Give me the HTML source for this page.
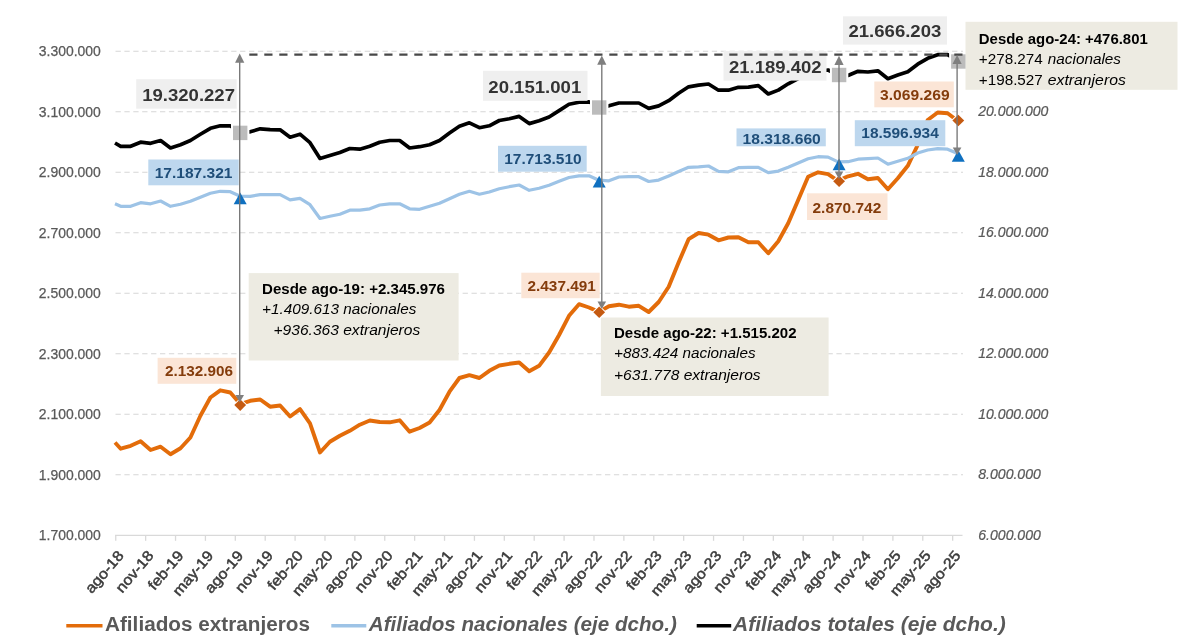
<!DOCTYPE html>
<html lang="es">
<head>
<meta charset="utf-8">
<title>Afiliados extranjeros, nacionales y totales</title>
<style>
html,body{margin:0;padding:0;background:#fff;}
body{width:1200px;height:638px;overflow:hidden;}
svg{display:block;font-family:"Liberation Sans",sans-serif;}
.ax{font-size:14px;fill:#595959;stroke:#595959;stroke-width:0.25px;}
.axr{font-size:14px;fill:#595959;font-style:italic;stroke:#595959;stroke-width:0.2px;}
.xl{font-size:14.6px;fill:#3c3c3c;stroke:#3c3c3c;stroke-width:0.5px;}
.lg{font-size:20px;font-weight:bold;fill:#595959;}
.lgi{font-size:20px;font-weight:bold;font-style:italic;fill:#595959;}
.b{font-weight:bold;}
.i{font-style:italic;}
</style>
</head>
<body>
<svg width="1200" height="638" viewBox="0 0 1200 638">
<rect x="0" y="0" width="1200" height="638" fill="#ffffff"/>

<g stroke="#d6d6d6" stroke-width="1.1" stroke-dasharray="5.3 3.6" fill="none">
<line x1="115.5" y1="51.20" x2="963" y2="51.20"/>
<line x1="115.5" y1="111.71" x2="963" y2="111.71"/>
<line x1="115.5" y1="172.22" x2="963" y2="172.22"/>
<line x1="115.5" y1="232.73" x2="963" y2="232.73"/>
<line x1="115.5" y1="293.24" x2="963" y2="293.24"/>
<line x1="115.5" y1="353.75" x2="963" y2="353.75"/>
<line x1="115.5" y1="414.26" x2="963" y2="414.26"/>
<line x1="115.5" y1="474.77" x2="963" y2="474.77"/>
</g>
<g stroke="#d9d9d9" stroke-width="1.3" fill="none">
<line x1="115" y1="535.3" x2="962.5" y2="535.3"/>
<line x1="115.75" y1="535.3" x2="115.75" y2="540.8"/>
<line x1="145.64" y1="535.3" x2="145.64" y2="540.8"/>
<line x1="175.53" y1="535.3" x2="175.53" y2="540.8"/>
<line x1="205.42" y1="535.3" x2="205.42" y2="540.8"/>
<line x1="235.31" y1="535.3" x2="235.31" y2="540.8"/>
<line x1="265.20" y1="535.3" x2="265.20" y2="540.8"/>
<line x1="295.09" y1="535.3" x2="295.09" y2="540.8"/>
<line x1="324.98" y1="535.3" x2="324.98" y2="540.8"/>
<line x1="354.87" y1="535.3" x2="354.87" y2="540.8"/>
<line x1="384.76" y1="535.3" x2="384.76" y2="540.8"/>
<line x1="414.65" y1="535.3" x2="414.65" y2="540.8"/>
<line x1="444.54" y1="535.3" x2="444.54" y2="540.8"/>
<line x1="474.43" y1="535.3" x2="474.43" y2="540.8"/>
<line x1="504.32" y1="535.3" x2="504.32" y2="540.8"/>
<line x1="534.21" y1="535.3" x2="534.21" y2="540.8"/>
<line x1="564.10" y1="535.3" x2="564.10" y2="540.8"/>
<line x1="593.99" y1="535.3" x2="593.99" y2="540.8"/>
<line x1="623.88" y1="535.3" x2="623.88" y2="540.8"/>
<line x1="653.77" y1="535.3" x2="653.77" y2="540.8"/>
<line x1="683.66" y1="535.3" x2="683.66" y2="540.8"/>
<line x1="713.55" y1="535.3" x2="713.55" y2="540.8"/>
<line x1="743.44" y1="535.3" x2="743.44" y2="540.8"/>
<line x1="773.33" y1="535.3" x2="773.33" y2="540.8"/>
<line x1="803.22" y1="535.3" x2="803.22" y2="540.8"/>
<line x1="833.11" y1="535.3" x2="833.11" y2="540.8"/>
<line x1="863.00" y1="535.3" x2="863.00" y2="540.8"/>
<line x1="892.89" y1="535.3" x2="892.89" y2="540.8"/>
<line x1="922.78" y1="535.3" x2="922.78" y2="540.8"/>
<line x1="952.67" y1="535.3" x2="952.67" y2="540.8"/>
</g>
<text class="ax" x="100.8" y="56.2" text-anchor="end" textLength="62" lengthAdjust="spacingAndGlyphs">3.300.000</text>
<text class="ax" x="100.8" y="116.7" text-anchor="end" textLength="62" lengthAdjust="spacingAndGlyphs">3.100.000</text>
<text class="ax" x="100.8" y="177.2" text-anchor="end" textLength="62" lengthAdjust="spacingAndGlyphs">2.900.000</text>
<text class="ax" x="100.8" y="237.7" text-anchor="end" textLength="62" lengthAdjust="spacingAndGlyphs">2.700.000</text>
<text class="ax" x="100.8" y="298.2" text-anchor="end" textLength="62" lengthAdjust="spacingAndGlyphs">2.500.000</text>
<text class="ax" x="100.8" y="358.8" text-anchor="end" textLength="62" lengthAdjust="spacingAndGlyphs">2.300.000</text>
<text class="ax" x="100.8" y="419.3" text-anchor="end" textLength="62" lengthAdjust="spacingAndGlyphs">2.100.000</text>
<text class="ax" x="100.8" y="479.8" text-anchor="end" textLength="62" lengthAdjust="spacingAndGlyphs">1.900.000</text>
<text class="ax" x="100.8" y="540.3" text-anchor="end" textLength="62" lengthAdjust="spacingAndGlyphs">1.700.000</text>
<text class="axr" x="978.3" y="116.3" textLength="70" lengthAdjust="spacingAndGlyphs">20.000.000</text>
<text class="axr" x="978.3" y="176.8" textLength="70" lengthAdjust="spacingAndGlyphs">18.000.000</text>
<text class="axr" x="978.3" y="237.3" textLength="70" lengthAdjust="spacingAndGlyphs">16.000.000</text>
<text class="axr" x="978.3" y="297.8" textLength="70" lengthAdjust="spacingAndGlyphs">14.000.000</text>
<text class="axr" x="978.3" y="358.4" textLength="70" lengthAdjust="spacingAndGlyphs">12.000.000</text>
<text class="axr" x="978.3" y="418.9" textLength="70" lengthAdjust="spacingAndGlyphs">10.000.000</text>
<text class="axr" x="978.3" y="479.4" textLength="62.5" lengthAdjust="spacingAndGlyphs">8.000.000</text>
<text class="axr" x="978.3" y="539.9" textLength="62.5" lengthAdjust="spacingAndGlyphs">6.000.000</text>
<text class="xl" transform="translate(124.5,556) rotate(-49.5)" text-anchor="end" textLength="50.4" lengthAdjust="spacingAndGlyphs">ago-18</text>
<text class="xl" transform="translate(154.4,556) rotate(-49.5)" text-anchor="end" textLength="49.5" lengthAdjust="spacingAndGlyphs">nov-18</text>
<text class="xl" transform="translate(184.3,556) rotate(-49.5)" text-anchor="end" textLength="45.9" lengthAdjust="spacingAndGlyphs">feb-19</text>
<text class="xl" transform="translate(214.2,556) rotate(-49.5)" text-anchor="end" textLength="54.0" lengthAdjust="spacingAndGlyphs">may-19</text>
<text class="xl" transform="translate(244.1,556) rotate(-49.5)" text-anchor="end" textLength="50.4" lengthAdjust="spacingAndGlyphs">ago-19</text>
<text class="xl" transform="translate(273.9,556) rotate(-49.5)" text-anchor="end" textLength="49.5" lengthAdjust="spacingAndGlyphs">nov-19</text>
<text class="xl" transform="translate(303.8,556) rotate(-49.5)" text-anchor="end" textLength="45.9" lengthAdjust="spacingAndGlyphs">feb-20</text>
<text class="xl" transform="translate(333.7,556) rotate(-49.5)" text-anchor="end" textLength="54.0" lengthAdjust="spacingAndGlyphs">may-20</text>
<text class="xl" transform="translate(363.6,556) rotate(-49.5)" text-anchor="end" textLength="50.4" lengthAdjust="spacingAndGlyphs">ago-20</text>
<text class="xl" transform="translate(393.5,556) rotate(-49.5)" text-anchor="end" textLength="49.5" lengthAdjust="spacingAndGlyphs">nov-20</text>
<text class="xl" transform="translate(423.4,556) rotate(-49.5)" text-anchor="end" textLength="45.9" lengthAdjust="spacingAndGlyphs">feb-21</text>
<text class="xl" transform="translate(453.3,556) rotate(-49.5)" text-anchor="end" textLength="54.0" lengthAdjust="spacingAndGlyphs">may-21</text>
<text class="xl" transform="translate(483.2,556) rotate(-49.5)" text-anchor="end" textLength="50.4" lengthAdjust="spacingAndGlyphs">ago-21</text>
<text class="xl" transform="translate(513.1,556) rotate(-49.5)" text-anchor="end" textLength="49.5" lengthAdjust="spacingAndGlyphs">nov-21</text>
<text class="xl" transform="translate(542.9,556) rotate(-49.5)" text-anchor="end" textLength="45.9" lengthAdjust="spacingAndGlyphs">feb-22</text>
<text class="xl" transform="translate(572.8,556) rotate(-49.5)" text-anchor="end" textLength="54.0" lengthAdjust="spacingAndGlyphs">may-22</text>
<text class="xl" transform="translate(602.7,556) rotate(-49.5)" text-anchor="end" textLength="50.4" lengthAdjust="spacingAndGlyphs">ago-22</text>
<text class="xl" transform="translate(632.6,556) rotate(-49.5)" text-anchor="end" textLength="49.5" lengthAdjust="spacingAndGlyphs">nov-22</text>
<text class="xl" transform="translate(662.5,556) rotate(-49.5)" text-anchor="end" textLength="45.9" lengthAdjust="spacingAndGlyphs">feb-23</text>
<text class="xl" transform="translate(692.4,556) rotate(-49.5)" text-anchor="end" textLength="54.0" lengthAdjust="spacingAndGlyphs">may-23</text>
<text class="xl" transform="translate(722.3,556) rotate(-49.5)" text-anchor="end" textLength="50.4" lengthAdjust="spacingAndGlyphs">ago-23</text>
<text class="xl" transform="translate(752.2,556) rotate(-49.5)" text-anchor="end" textLength="49.5" lengthAdjust="spacingAndGlyphs">nov-23</text>
<text class="xl" transform="translate(782.1,556) rotate(-49.5)" text-anchor="end" textLength="45.9" lengthAdjust="spacingAndGlyphs">feb-24</text>
<text class="xl" transform="translate(811.9,556) rotate(-49.5)" text-anchor="end" textLength="54.0" lengthAdjust="spacingAndGlyphs">may-24</text>
<text class="xl" transform="translate(841.8,556) rotate(-49.5)" text-anchor="end" textLength="50.4" lengthAdjust="spacingAndGlyphs">ago-24</text>
<text class="xl" transform="translate(871.7,556) rotate(-49.5)" text-anchor="end" textLength="49.5" lengthAdjust="spacingAndGlyphs">nov-24</text>
<text class="xl" transform="translate(901.6,556) rotate(-49.5)" text-anchor="end" textLength="45.9" lengthAdjust="spacingAndGlyphs">feb-25</text>
<text class="xl" transform="translate(931.5,556) rotate(-49.5)" text-anchor="end" textLength="54.0" lengthAdjust="spacingAndGlyphs">may-25</text>
<text class="xl" transform="translate(961.4,556) rotate(-49.5)" text-anchor="end" textLength="50.4" lengthAdjust="spacingAndGlyphs">ago-25</text>
<path d="M115.0,442.5 L120.7,448.7 L130.7,445.8 L140.6,441.3 L150.6,450.0 L160.6,446.7 L170.5,454.2 L180.5,448.3 L190.4,437.5 L200.4,415.8 L210.4,397.5 L220.3,390.3 L230.3,392.5 L240.3,404.1 L250.2,400.8 L260.2,399.5 L270.1,406.7 L280.1,405.5 L290.1,416.5 L300.0,409.1 L310.0,423.3 L320.0,452.5 L329.9,441.7 L339.9,435.8 L349.8,430.8 L359.8,424.7 L369.8,420.5 L379.7,422.0 L389.7,422.3 L399.7,420.3 L409.6,431.7 L419.6,428.0 L429.6,422.5 L439.5,410.0 L449.5,391.7 L459.4,378.0 L469.4,375.2 L479.4,378.0 L489.3,370.8 L499.3,365.5 L509.3,363.8 L519.2,362.5 L529.2,371.3 L539.1,365.8 L549.1,352.5 L559.1,335.0 L569.0,315.8 L579.0,304.2 L589.0,307.5 L598.9,311.9 L608.9,306.3 L618.9,304.7 L628.8,306.7 L638.8,305.8 L648.7,312.0 L658.7,302.0 L668.7,286.7 L678.6,262.5 L688.6,239.2 L698.6,233.0 L708.5,234.7 L718.5,240.3 L728.4,237.5 L738.4,237.2 L748.4,242.2 L758.3,242.3 L768.3,253.3 L778.3,241.3 L788.2,223.3 L798.2,200.0 L808.1,176.8 L818.1,172.3 L828.1,174.2 L838.0,180.8 L848.0,176.3 L858.0,173.8 L867.9,179.2 L877.9,178.0 L887.9,189.2 L897.8,178.3 L907.8,165.8 L917.7,145.0 L927.7,120.0 L937.7,112.5 L947.6,113.3 L957.6,120.8" fill="none" stroke="#e36c0a" stroke-width="3.9" stroke-linejoin="round"/>
<path d="M115.0,203.8 L120.7,206.3 L130.7,206.3 L140.6,202.7 L150.6,203.8 L160.6,201.0 L170.5,206.3 L180.5,204.3 L190.4,201.3 L200.4,197.2 L210.4,193.3 L220.3,191.3 L230.3,191.7 L240.3,196.2 L250.2,196.3 L260.2,194.7 L270.1,194.7 L280.1,194.7 L290.1,199.9 L300.0,198.3 L310.0,204.7 L320.0,218.5 L329.9,216.3 L339.9,214.3 L349.8,210.2 L359.8,210.2 L369.8,208.8 L379.7,205.0 L389.7,203.8 L399.7,203.8 L409.6,208.8 L419.6,209.3 L429.6,206.3 L439.5,203.3 L449.5,198.8 L459.4,194.3 L469.4,191.3 L479.4,194.2 L489.3,192.0 L499.3,188.7 L509.3,186.7 L519.2,185.0 L529.2,190.3 L539.1,188.3 L549.1,185.3 L559.1,181.3 L569.0,177.5 L579.0,175.8 L589.0,175.8 L598.9,180.2 L608.9,180.8 L618.9,177.0 L628.8,176.7 L638.8,176.7 L648.7,181.5 L658.7,180.1 L668.7,176.0 L678.6,171.5 L688.6,167.3 L698.6,166.8 L708.5,166.0 L718.5,171.3 L728.4,171.8 L738.4,167.7 L748.4,167.4 L758.3,167.4 L768.3,172.6 L778.3,171.1 L788.2,167.2 L798.2,163.0 L808.1,158.8 L818.1,156.7 L828.1,157.1 L838.0,161.9 L848.0,161.7 L858.0,159.2 L867.9,158.7 L877.9,158.0 L887.9,164.2 L897.8,161.3 L907.8,158.3 L917.7,153.0 L927.7,150.0 L937.7,148.7 L947.6,149.2 L957.6,153.5" fill="none" stroke="#9dc3e6" stroke-width="3.2" stroke-linejoin="round"/>
<path d="M115.0,143.0 L120.7,146.3 L130.7,146.3 L140.6,142.2 L150.6,143.3 L160.6,140.5 L170.5,148.0 L180.5,144.7 L190.4,140.5 L200.4,134.3 L210.4,128.3 L220.3,125.8 L230.3,125.8 L240.3,131.6 L250.2,131.8 L260.2,128.8 L270.1,129.7 L280.1,129.8 L290.1,137.2 L300.0,134.2 L310.0,142.7 L320.0,158.5 L329.9,155.5 L339.9,152.5 L349.8,148.5 L359.8,149.2 L369.8,146.3 L379.7,142.2 L389.7,140.5 L399.7,140.5 L409.6,148.0 L419.6,146.7 L429.6,144.7 L439.5,140.5 L449.5,133.0 L459.4,126.3 L469.4,122.8 L479.4,127.7 L489.3,125.8 L499.3,120.5 L509.3,118.7 L519.2,116.4 L529.2,123.6 L539.1,120.8 L549.1,117.0 L559.1,110.6 L569.0,104.2 L579.0,102.2 L589.0,101.9 L598.9,106.4 L608.9,105.8 L618.9,103.0 L628.8,103.0 L638.8,103.0 L648.7,108.4 L658.7,105.9 L668.7,100.7 L678.6,93.2 L688.6,86.8 L698.6,85.2 L708.5,84.0 L718.5,90.2 L728.4,90.2 L738.4,87.3 L748.4,87.2 L758.3,85.7 L768.3,94.0 L778.3,90.1 L788.2,83.8 L798.2,78.5 L808.1,74.0 L818.1,71.5 L828.1,70.0 L838.0,75.0 L848.0,75.5 L858.0,71.3 L867.9,72.0 L877.9,70.8 L887.9,78.7 L897.8,75.0 L907.8,71.7 L917.7,64.2 L927.7,58.3 L937.7,54.7 L947.6,54.7 L957.6,60.5" fill="none" stroke="#000000" stroke-width="3.7" stroke-linejoin="round"/>
<rect x="231.0" y="123.7" width="18.4" height="18.4" fill="#ffffff"/>
<rect x="590.0" y="98.3" width="18.4" height="18.4" fill="#ffffff"/>
<rect x="829.9" y="65.8" width="18.4" height="18.4" fill="#ffffff"/>
<rect x="949.1" y="52.3" width="18.4" height="18.4" fill="#ffffff"/>
<rect x="248.7" y="273.1" width="209.9" height="87.4" fill="#edebe2"/>
<rect x="600.9" y="317.5" width="227.7" height="78.5" fill="#edebe2"/>
<rect x="965.5" y="21.8" width="212.0" height="68.0" fill="#edebe2"/>
<text x="262" y="293.9" class="b" font-size="14.6" fill="#000" textLength="183" lengthAdjust="spacingAndGlyphs">Desde ago-19: +2.345.976</text>
<text x="262" y="313.9" class="i" font-size="14.6" fill="#000" textLength="154.3" lengthAdjust="spacingAndGlyphs">+1.409.613 nacionales</text>
<text x="273.5" y="335" class="i" font-size="14.6" fill="#000" textLength="146.7" lengthAdjust="spacingAndGlyphs">+936.363 extranjeros</text>
<text x="614" y="338.3" class="b" font-size="14.6" fill="#000" textLength="182.5" lengthAdjust="spacingAndGlyphs">Desde ago-22: +1.515.202</text>
<text x="614" y="358.3" class="i" font-size="14.6" fill="#000" textLength="141.6" lengthAdjust="spacingAndGlyphs">+883.424 nacionales</text>
<text x="614" y="379.6" class="i" font-size="14.6" fill="#000" textLength="146.6" lengthAdjust="spacingAndGlyphs">+631.778 extranjeros</text>
<text x="978.8" y="43.8" class="b" font-size="14.6" fill="#000" textLength="169" lengthAdjust="spacingAndGlyphs">Desde ago-24: +476.801</text>
<text x="978.8" y="63.6" class="" font-size="14.6" fill="#000" textLength="64" lengthAdjust="spacingAndGlyphs">+278.274</text>
<text x="1047.8" y="63.6" class="i" font-size="14.6" fill="#000" textLength="73.2" lengthAdjust="spacingAndGlyphs">nacionales</text>
<text x="978.8" y="84.5" class="" font-size="14.6" fill="#000" textLength="64" lengthAdjust="spacingAndGlyphs">+198.527</text>
<text x="1047.8" y="84.5" class="i" font-size="14.6" fill="#000" textLength="78" lengthAdjust="spacingAndGlyphs">extranjeros</text>
<rect x="136.2" y="79.2" width="100.5" height="29.5" fill="#efefef"/>
<text x="142.2" y="101.3" class="b" font-size="16.3" fill="#333333" textLength="92.8" lengthAdjust="spacingAndGlyphs">19.320.227</text>
<rect x="148.3" y="159.5" width="90.4" height="25.8" fill="#bdd7ee"/>
<text x="154.7" y="177.5" class="b" font-size="14.4" fill="#1f4e79" textLength="77.8" lengthAdjust="spacingAndGlyphs">17.187.321</text>
<rect x="157.6" y="357.8" width="78.7" height="26.0" fill="#fbe5d6"/>
<text x="164.9" y="376.2" class="b" font-size="14.4" fill="#843c0c" textLength="68.0" lengthAdjust="spacingAndGlyphs">2.132.906</text>
<rect x="521.3" y="272.7" width="78.4" height="25.5" fill="#fbe5d6"/>
<text x="527.5" y="290.5" class="b" font-size="14.4" fill="#843c0c" textLength="68.3" lengthAdjust="spacingAndGlyphs">2.437.491</text>
<rect x="483" y="70.8" width="104.5" height="30.0" fill="#efefef"/>
<text x="488.3" y="93" class="b" font-size="16.3" fill="#333333" textLength="93.0" lengthAdjust="spacingAndGlyphs">20.151.001</text>
<rect x="498" y="145.8" width="88.7" height="25.9" fill="#bdd7ee"/>
<text x="504.2" y="164.2" class="b" font-size="14.4" fill="#1f4e79" textLength="77.5" lengthAdjust="spacingAndGlyphs">17.713.510</text>
<rect x="723.5" y="51" width="103.0" height="29.6" fill="#efefef"/>
<text x="729" y="73" class="b" font-size="16.3" fill="#333333" textLength="92.6" lengthAdjust="spacingAndGlyphs">21.189.402</text>
<rect x="843" y="16.3" width="104.0" height="28.3" fill="#efefef"/>
<text x="848.5" y="37.1" class="b" font-size="16.3" fill="#333333" textLength="92.8" lengthAdjust="spacingAndGlyphs">21.666.203</text>
<rect x="874.3" y="81.5" width="79.5" height="25.8" fill="#fbe5d6"/>
<text x="880.1" y="99.8" class="b" font-size="14.4" fill="#843c0c" textLength="69.5" lengthAdjust="spacingAndGlyphs">3.069.269</text>
<rect x="854.8" y="120.2" width="90.5" height="26.0" fill="#bdd7ee"/>
<text x="861.3" y="138.4" class="b" font-size="14.6" fill="#1f4e79" textLength="77.5" lengthAdjust="spacingAndGlyphs">18.596.934</text>
<rect x="736.5" y="128.4" width="89.3" height="17.9" fill="#bdd7ee"/>
<text x="742.5" y="143.9" class="b" font-size="14.4" fill="#1f4e79" textLength="78.3" lengthAdjust="spacingAndGlyphs">18.318.660</text>
<rect x="807" y="193.3" width="80.5" height="26.7" fill="#fbe5d6"/>
<text x="812.5" y="212.5" class="b" font-size="14.4" fill="#843c0c" textLength="68.8" lengthAdjust="spacingAndGlyphs">2.870.742</text>
<rect x="233.0" y="125.7" width="14.4" height="14.4" fill="#a6a6a6" fill-opacity="0.75"/>
<rect x="592.0" y="100.3" width="14.4" height="14.4" fill="#a6a6a6" fill-opacity="0.75"/>
<rect x="831.9" y="67.8" width="14.4" height="14.4" fill="#a6a6a6" fill-opacity="0.75"/>
<rect x="951.1" y="54.3" width="14.4" height="14.4" fill="#a6a6a6" fill-opacity="0.75"/>
<line x1="249.3" y1="54.6" x2="962.5" y2="54.6" stroke="#484848" stroke-width="2.2" stroke-dasharray="8.2 6.8"/>
<path d="M240.2,192.5 l6.5,11.7 l-13,0 z" fill="#0f70c0"/>
<path d="M240.2,399.3 l5.9,5.8 l-5.9,5.8 l-5.9,-5.8 z" fill="#c55a11" stroke="#ffffff" stroke-width="2" paint-order="stroke"/>
<path d="M599.2,175.8 l6.5,11.7 l-13,0 z" fill="#0f70c0"/>
<path d="M599.2,306.4 l5.9,5.8 l-5.9,5.8 l-5.9,-5.8 z" fill="#c55a11" stroke="#ffffff" stroke-width="2" paint-order="stroke"/>
<path d="M839.1,158.5 l6.5,11.7 l-13,0 z" fill="#0f70c0"/>
<path d="M839.1,175.5 l5.9,5.8 l-5.9,5.8 l-5.9,-5.8 z" fill="#c55a11" stroke="#ffffff" stroke-width="2" paint-order="stroke"/>
<path d="M958.3,150 l6.5,11.7 l-13,0 z" fill="#0f70c0"/>
<path d="M958.3,114.7 l5.9,5.8 l-5.9,5.8 l-5.9,-5.8 z" fill="#c55a11" stroke="#ffffff" stroke-width="2" paint-order="stroke"/>
<line x1="239.7" y1="57.5" x2="239.7" y2="398.5" stroke="#767676" stroke-width="1.35"/>
<path d="M239.7,53.5 l-4.6,9.2 l9.2,0 z" fill="#7f7f7f"/>
<path d="M239.7,402.5 l-4.3,-7.6 l8.6,0 z" fill="#7f7f7f"/>
<line x1="601.8" y1="59.5" x2="601.8" y2="305" stroke="#767676" stroke-width="1.35"/>
<path d="M601.8,55.5 l-4.6,9.2 l9.2,0 z" fill="#7f7f7f"/>
<path d="M601.8,309 l-4.3,-7.6 l8.6,0 z" fill="#7f7f7f"/>
<line x1="839" y1="59.7" x2="839" y2="175" stroke="#767676" stroke-width="1.35"/>
<path d="M839,55.7 l-4.6,9.2 l9.2,0 z" fill="#7f7f7f"/>
<path d="M839,179 l-4.3,-7.6 l8.6,0 z" fill="#7f7f7f"/>
<line x1="957.1" y1="58.9" x2="957.1" y2="151" stroke="#767676" stroke-width="1.35"/>
<path d="M957.1,54.9 l-4.6,9.2 l9.2,0 z" fill="#7f7f7f"/>
<path d="M957.1,155 l-4.3,-7.6 l8.6,0 z" fill="#7f7f7f"/>
<line x1="66.3" y1="625.8" x2="102.5" y2="625.8" stroke="#e36c0a" stroke-width="3.4"/>
<text class="lg" x="105" y="631.3" textLength="205" lengthAdjust="spacingAndGlyphs">Afiliados extranjeros</text>
<line x1="331.3" y1="625.8" x2="366.3" y2="625.8" stroke="#9dc3e6" stroke-width="3.4"/>
<text class="lgi" x="368.8" y="631.3" textLength="308" lengthAdjust="spacingAndGlyphs">Afiliados nacionales (eje dcho.)</text>
<line x1="696.7" y1="625.8" x2="731.2" y2="625.8" stroke="#000" stroke-width="3.4"/>
<text class="lgi" x="733" y="631.3" textLength="272.7" lengthAdjust="spacingAndGlyphs">Afiliados totales (eje dcho.)</text>
</svg>
</body>
</html>
